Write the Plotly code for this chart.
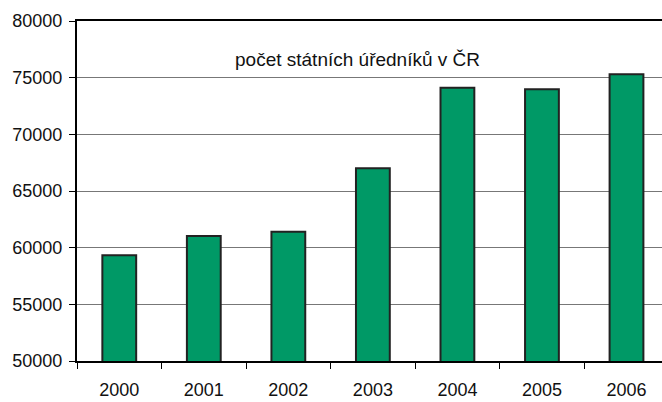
import plotly.graph_objects as go

years = ["2000", "2001", "2002", "2003", "2004", "2005", "2006"]
officials = [59330, 61030, 61400, 67000, 74100, 73970, 75300]
y_ticks = [50000, 55000, 60000, 65000, 70000, 75000, 80000]
title_text = "počet státních úředníků v ČR"

fig = go.Figure()
fig.add_trace(go.Bar(
    x=years, y=officials, width=0.4,
    marker=dict(color="#009966", line=dict(color="#222222", width=2)),
))

fig.update_layout(
    width=662, height=402,
    margin=dict(l=77, r=0, t=21, b=41),
    paper_bgcolor="white", plot_bgcolor="white",
    showlegend=False,
    font=dict(family="Liberation Sans, Arial, sans-serif", size=18, color="#111111"),
    bargap=0.6,
)
fig.update_xaxes(
    type="category", range=[-0.5, 6.42],
    showline=True, linecolor="black", linewidth=2, mirror=True,
    ticks="outside", tickson="boundaries", ticklen=6, tickcolor="black", tickwidth=1,
    showgrid=False, tickfont=dict(size=18), ticklabelstandoff=11, automargin=False,
)
fig.update_yaxes(
    range=[50000, 80000], tickvals=y_ticks, ticktext=[str(v) for v in y_ticks],
    showline=True, linecolor="black", linewidth=2,
    ticks="outside", ticklen=6, tickcolor="black", tickwidth=1,
    showgrid=True, gridcolor="#777777", gridwidth=1,
    zeroline=False, tickfont=dict(size=18), ticklabelstandoff=3, automargin=False,
)
pw = 662 - 77 - 0
ph = 402 - 21 - 41
fig.add_annotation(
    text=title_text, x=(357 - 77) / pw, xref="paper",
    y=(402 - 41 - 47) / ph, yref="paper",
    showarrow=False, font=dict(size=19),
)

fig.write_html("out.html", config={"displayModeBar": False},
               post_script="document.body.style.margin='0px';")
